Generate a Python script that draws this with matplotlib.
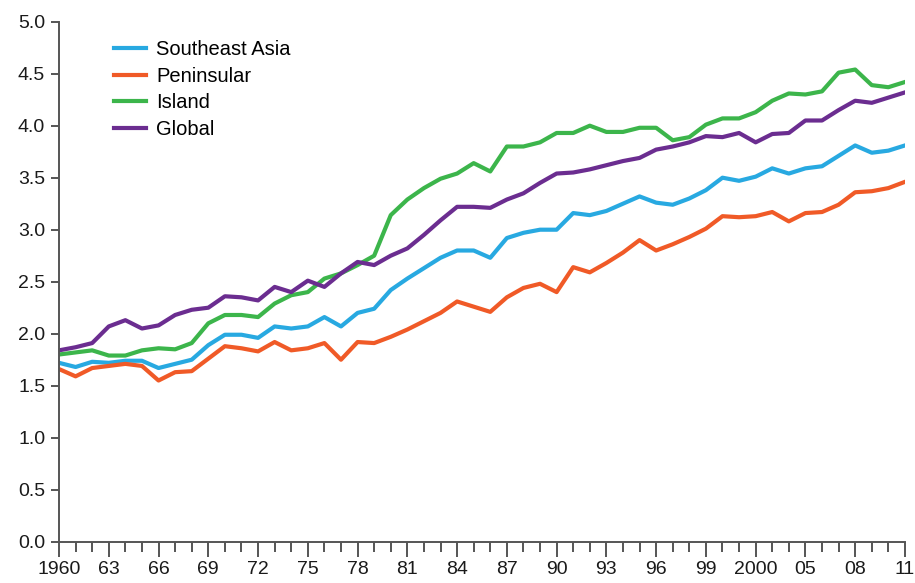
import numpy as np
import matplotlib.pyplot as plt

plt.rcParams['font.family'] = ['Liberation Sans', 'DejaVu Sans']

years = list(range(1960, 2012))

southeast_asia = [1.72, 1.68, 1.73, 1.72, 1.74, 1.74, 1.67, 1.71, 1.75, 1.89,
                  1.99, 1.99, 1.96, 2.07, 2.05, 2.07, 2.16, 2.07, 2.20, 2.24,
                  2.42, 2.53, 2.63, 2.73, 2.80, 2.80, 2.73, 2.92, 2.97, 3.00,
                  3.00, 3.16, 3.14, 3.18, 3.25, 3.32, 3.26, 3.24, 3.30, 3.38,
                  3.50, 3.47, 3.51, 3.59, 3.54, 3.59, 3.61, 3.71, 3.81, 3.74,
                  3.76, 3.81]
peninsular = [1.66, 1.59, 1.67, 1.69, 1.71, 1.69, 1.55, 1.63, 1.64, 1.76,
              1.88, 1.86, 1.83, 1.92, 1.84, 1.86, 1.91, 1.75, 1.92, 1.91,
              1.97, 2.04, 2.12, 2.20, 2.31, 2.26, 2.21, 2.35, 2.44, 2.48,
              2.40, 2.64, 2.59, 2.68, 2.78, 2.90, 2.80, 2.86, 2.93, 3.01,
              3.13, 3.12, 3.13, 3.17, 3.08, 3.16, 3.17, 3.24, 3.36, 3.37,
              3.40, 3.46]
island = [1.80, 1.82, 1.84, 1.79, 1.79, 1.84, 1.86, 1.85, 1.91, 2.10,
          2.18, 2.18, 2.16, 2.29, 2.37, 2.40, 2.53, 2.58, 2.66, 2.75,
          3.14, 3.29, 3.40, 3.49, 3.54, 3.64, 3.56, 3.80, 3.80, 3.84,
          3.93, 3.93, 4.00, 3.94, 3.94, 3.98, 3.98, 3.86, 3.89, 4.01,
          4.07, 4.07, 4.13, 4.24, 4.31, 4.30, 4.33, 4.51, 4.54, 4.39,
          4.37, 4.42]
global_ = [1.84, 1.87, 1.91, 2.07, 2.13, 2.05, 2.08, 2.18, 2.23, 2.25,
           2.36, 2.35, 2.32, 2.45, 2.40, 2.51, 2.45, 2.58, 2.69, 2.66,
           2.75, 2.82, 2.95, 3.09, 3.22, 3.22, 3.21, 3.29, 3.35, 3.45,
           3.54, 3.55, 3.58, 3.62, 3.66, 3.69, 3.77, 3.80, 3.84, 3.90,
           3.89, 3.93, 3.84, 3.92, 3.93, 4.05, 4.05, 4.15, 4.24, 4.22,
           4.27, 4.32]

xtick_years = list(range(1960, 2012, 3))
xtick_labels = ['1960', '63', '66', '69', '72', '75', '78', '81', '84', '87',
                '90', '93', '96', '99', '2000', '05', '08', '11']

series = [
    ('Southeast Asia', southeast_asia, '#28a9e1'),
    ('Peninsular', peninsular, '#f05a27'),
    ('Island', island, '#3cb54b'),
    ('Global', global_, '#6b2d90'),
]

fig = plt.figure(figsize=(9.15, 5.83), dpi=100)
ax = fig.add_axes([0.0645, 0.0708, 0.9245, 0.892])

for name, values, color in series:
    ax.plot(years, values, color=color, lw=3, label=name)

ax.set_xlim(1960, 2011)
ax.set_ylim(0, 5)
ax.set_yticks(np.arange(0, 5.01, 0.5))
ax.set_yticklabels([f'{v:.1f}' for v in np.arange(0, 5.01, 0.5)])
ax.set_xticks(xtick_years)
ax.set_xticklabels(xtick_labels)
ax.set_xticks(years, minor=True)

# only the left and bottom axis lines are drawn
for side in ['top', 'right']:
    ax.spines[side].set_visible(False)
for side in ['left', 'bottom']:
    ax.spines[side].set_color('#555555')
    ax.spines[side].set_linewidth(1.4)

ax.tick_params(axis='x', which='major', direction='out', length=11, width=1.4,
               color='#555555', labelsize=14, pad=3, labelcolor='#1a1a1a')
ax.tick_params(axis='x', which='minor', direction='out', length=7, width=1.4,
               color='#555555')
ax.tick_params(axis='y', direction='out', length=6, width=1.4,
               color='#555555', labelsize=14, pad=4, labelcolor='#1a1a1a')

ax.legend(loc='upper left', bbox_to_anchor=(0.055, 0.98), frameon=False,
          fontsize=14.5, handlelength=1.6, handletextpad=0.5,
          labelspacing=0.38, borderaxespad=0)

fig.savefig('out.png', dpi=100)
